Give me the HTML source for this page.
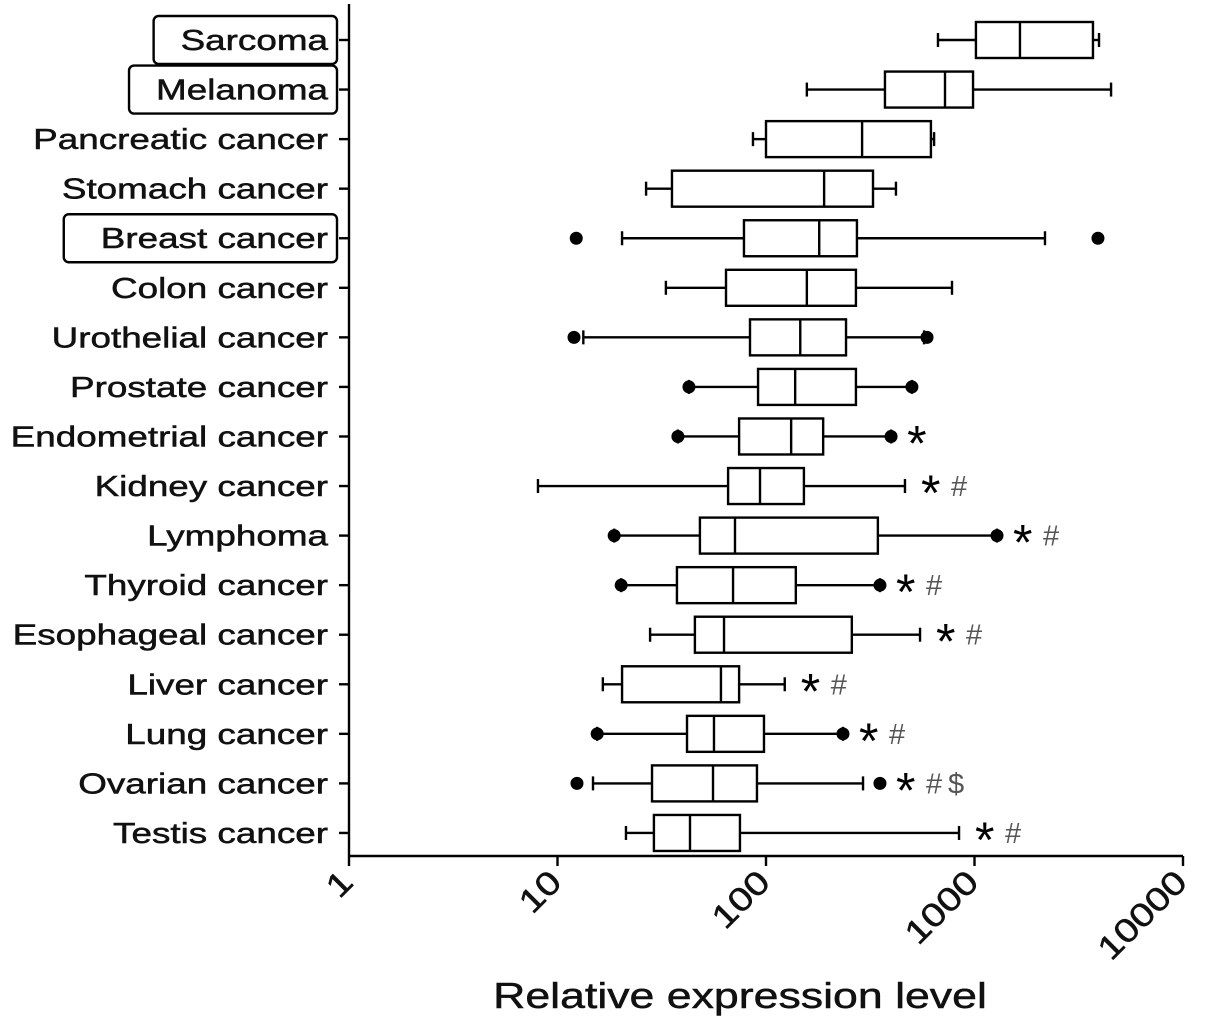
<!DOCTYPE html>
<html><head><meta charset="utf-8"><style>
body{margin:0;background:#fff;}
svg{display:block;font-family:"Liberation Sans",Arial,sans-serif;}
</style></head><body>
<svg id="chart" width="1205" height="1030" viewBox="0 0 1205 1030"></svg>
<script>
const categories=["Sarcoma","Melanoma","Pancreatic cancer","Stomach cancer","Breast cancer","Colon cancer","Urothelial cancer","Prostate cancer","Endometrial cancer","Kidney cancer","Lymphoma","Thyroid cancer","Esophageal cancer","Liver cancer","Lung cancer","Ovarian cancer","Testis cancer"];
const whiskerLow=[668,157,86.6,26.6,20.4,33.1,13.3,42.7,37.8,8.06,18.7,20.2,27.8,16.5,15.5,14.8,21.3];
const q1=[1016,372,100,35.4,78.4,64.3,83.8,91.6,74.3,65.8,48.2,37.4,45.6,20.4,41.8,28.4,29.0];
const medians=[1652,722,289,190,180,157,146,138,132,93.6,71.0,69.5,62.9,60.8,56.3,55.7,43.2];
const q3=[3700,984,618,326,273,270,242,270,188,152,344,139,258,74.3,97.8,90.5,75.0];
const whiskerHigh=[3955,4518,640,420,2178,780,573,501,398,464,1282,352,548,123,234,292,843];
const outliers=[[],[],[],[],[12.3,3910],[],[12.0,592],[42.7,501],[37.8,398],[],[18.7,1282],[20.2,352],[],[],[15.5,234],[12.4,352],[]];
const annotations=["","","","","","","","","*","*#","*#","*#","*#","*#","*#","*#$","*#"];
const boxedLabels=["Sarcoma","Melanoma","Breast cancer"];
const tickValues=[1,10,100,1000,10000];
const tickLabels=["1","10","100","1000","10000"];

const NS="http://www.w3.org/2000/svg";
const svg=document.getElementById("chart");
const X0=349,X1=1183,Y0=40,DY=49.56,AXY=856;
const xs=v=>X0+(Math.log10(v)/4)*(X1-X0);
const ys=i=>Y0+i*DY;
function el(t,a,p){const e=document.createElementNS(NS,t);for(const k in a)e.setAttribute(k,a[k]);(p||svg).appendChild(e);return e;}
function stretch(t,f){const w=t.getComputedTextLength();t.setAttribute("textLength",w*f);t.setAttribute("lengthAdjust","spacingAndGlyphs");return w*f;}
const S={stroke:"#000","stroke-width":2.4,fill:"none"};
const TXT={fill:"#111",stroke:"#111","stroke-width":0.5};

const yAxis=el("line",Object.assign({x1:X0,y1:4,x2:X0,y2:AXY},S));


const xAxis=el("line",Object.assign({x1:X0-1,y1:AXY,x2:X1,y2:AXY},S));



tickValues.forEach((v,i)=>{
  const x=xs(v);
  el("line",Object.assign({x1:x,y1:AXY,x2:x,y2:AXY+10},S));
  const t=el("text",Object.assign({x:x+6,y:AXY+28,"text-anchor":"end","font-size":33,transform:`rotate(-45 ${x+6} ${AXY+28})`},TXT));
  t.textContent=tickLabels[i];
  
  
  stretch(t,1.2);
});
const title=el("text",Object.assign({x:740,y:1008,"text-anchor":"middle","font-size":36},TXT));
title.textContent="Relative expression level";


stretch(title,1.24);

categories.forEach((c,i)=>{
  const y=ys(i);
  el("line",Object.assign({x1:X0-10,y1:y,x2:X0,y2:y},S));
  const lab=el("text",Object.assign({x:328,y:y+10,"text-anchor":"end","font-size":29},TXT));
  lab.textContent=c;
  
  
  const w=stretch(lab,1.27);
  if(boxedLabels.includes(c)){
    const bw=w+(c==="Breast cancer"?46:36);
    const r=el("rect",{x:337-bw,y:y-24,width:bw,height:48,rx:5,fill:"none",stroke:"#000","stroke-width":2.4});
    
    
  }
  const g=el("g",{});
  
  
  const wl=xs(whiskerLow[i]),wh=xs(whiskerHigh[i]),a=xs(q1[i]),b=xs(q3[i]),m=xs(medians[i]);
  el("line",Object.assign({x1:wl,y1:y,x2:a,y2:y},S),g);
  el("line",Object.assign({x1:b,y1:y,x2:wh,y2:y},S),g);
  el("line",Object.assign({x1:wl,y1:y-7,x2:wl,y2:y+7},S),g);
  el("line",Object.assign({x1:wh,y1:y-7,x2:wh,y2:y+7},S),g);
  el("rect",Object.assign({x:a,y:y-18,width:b-a,height:36},S),g);
  el("line",Object.assign({x1:m,y1:y-18,x2:m,y2:y+18},S),g);
  outliers[i].forEach(v=>{
    const d=el("circle",{cx:xs(v),cy:y,r:6.5,fill:"#000"},g);
    
    
  });
  const an=annotations[i];
  if(an){
    let x=Math.max(wh,...outliers[i].map(xs))+16;
    for(const ch of an){
      const isStar=ch==="*";
      const t=el("text",{x:x,y:isStar?y+24:y+10,"font-size":isStar?50:29,fill:isStar?"#000":"#555"});
      t.textContent=ch;
      
      
      x+=isStar?30:22;
    }
  }
});
</script>
</body></html>
